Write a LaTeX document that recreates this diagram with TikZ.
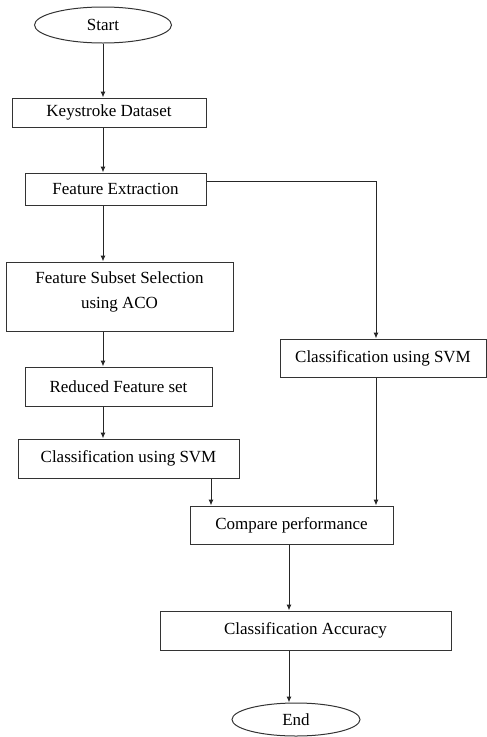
\documentclass[tikz,border=0pt]{standalone}
\usepackage{fontspec}
\setmainfont{Liberation Serif}
\usetikzlibrary{shapes.geometric,arrows.meta,positioning,calc}

\begin{document}
\begin{tikzpicture}[
  x=1pt, y=-1pt,
  term/.style={draw=black!80, line width=1pt, ellipse, inner sep=0pt, font=\fontsize{17}{20}\selectfont},
  stepbox/.style={draw=black!80, line width=1pt, rectangle, inner sep=0pt, align=center, font=\fontsize{17}{25}\selectfont},
  flow/.style={draw=black!85, line width=1pt, -{Latex[length=6pt,width=5pt]}}
]
\useasboundingbox (0,0) rectangle (487,737);

% Terminals
\node[term, minimum width=137pt, minimum height=36pt] (start) at (103,25) {Start};
\node[term, minimum width=128pt, minimum height=33pt] (end) at (296,719.5) {End};

% Left branch
\node[stepbox, minimum width=194pt, minimum height=29pt] (data) at (109,112.5) {Keystroke Dataset};
\node[stepbox, minimum width=181pt, minimum height=32pt] (feat) at (115.5,189) {Feature Extraction};
\node[stepbox, minimum width=227pt, minimum height=69pt, text depth=12pt] (fss) at (119.5,296.5) {Feature Subset Selection\\using ACO};
\node[stepbox, minimum width=187pt, minimum height=39pt] (redu) at (118.5,386.5) {Reduced Feature set};
\node[stepbox, minimum width=221pt, minimum height=39pt] (svmL) at (128.5,458.5) {Classification using SVM};

% Right branch
\node[stepbox, minimum width=206pt, minimum height=38pt] (svmR) at (383,358) {Classification using SVM};

% Merge
\node[stepbox, minimum width=203pt, minimum height=38pt] (cmp) at (291.5,525) {Compare performance};
\node[stepbox, minimum width=291pt, minimum height=39pt] (acc) at (305.5,630.5) {Classification Accuracy};

% columns for the connectors
\coordinate (lc) at (103,0);
\coordinate (rc) at (376,0);
\coordinate (dc) at (211,0);
\coordinate (mc) at (289,0);

% arrows
\draw[flow] (start) -- (lc |- data.north);
\draw[flow] (lc |- data.south) -- (lc |- feat.north);
\draw[flow] (lc |- feat.south) -- (lc |- fss.north);
\draw[flow] (lc |- fss.south) -- (lc |- redu.north);
\draw[flow] (lc |- redu.south) -- (lc |- svmL.north);
\draw[flow] ([yshift=8pt]feat.east) -| (rc |- svmR.north);
\draw[flow] (rc |- svmR.south) -- (rc |- cmp.north);
\draw[flow] (dc |- svmL.south) -- (dc |- cmp.north);
\draw[flow] (mc |- cmp.south) -- (mc |- acc.north);
\draw[flow] (mc |- acc.south) -- (mc |- end.north);
\end{tikzpicture}
\end{document}
